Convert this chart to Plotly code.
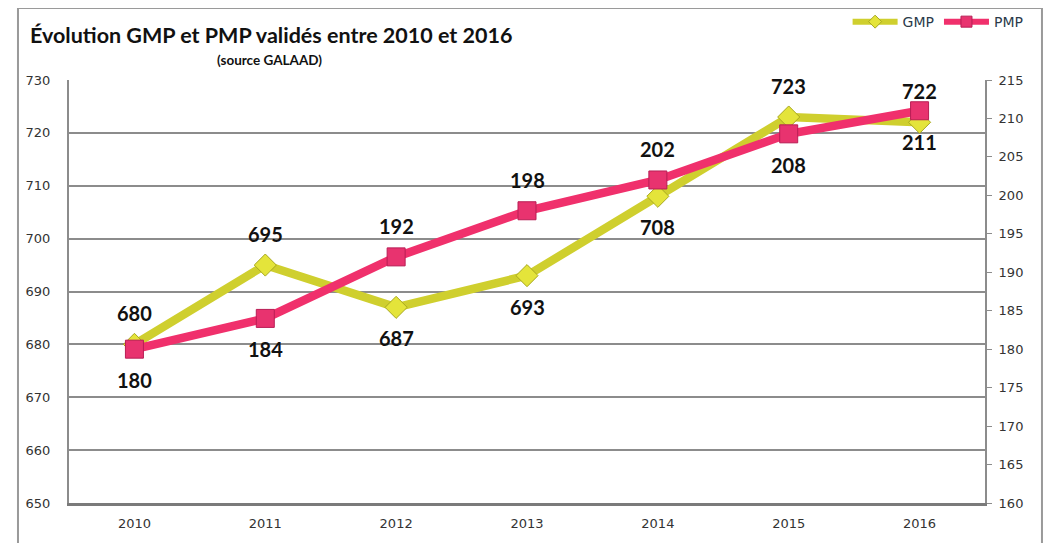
import plotly.graph_objects as go

years = ["2010", "2011", "2012", "2013", "2014", "2015", "2016"]
gmp = [680, 695, 687, 693, 708, 723, 722]
pmp = [180, 184, 192, 198, 202, 208, 211]
gmp_label_pos = ["above", "above", "below", "below", "below", "above", "above"]
pmp_label_pos = ["below", "below", "above", "above", "above", "below", "below"]
left_ticks = [650, 660, 670, 680, 690, 700, 710, 720, 730]
right_ticks = [160, 165, 170, 175, 180, 185, 190, 195, 200, 205, 210, 215]

GMP_LINE = "#cfcf2e"
GMP_FILL = "#e4e43a"
PMP_LINE = "#f0306c"
PMP_FILL = "#e8336f"

idx = list(range(len(years)))

fig = go.Figure()
fig.add_trace(go.Scatter(
    x=idx, y=gmp, name="GMP", mode="lines+markers", showlegend=False,
    line=dict(color=GMP_LINE, width=8.5),
    marker=dict(symbol="diamond", size=17, color=GMP_FILL,
                line=dict(color="#a8a820", width=1)),
    yaxis="y"))
fig.add_trace(go.Scatter(
    x=idx, y=pmp, name="PMP", mode="lines+markers", showlegend=False,
    line=dict(color=PMP_LINE, width=8.5),
    marker=dict(symbol="square", size=18, color=PMP_FILL,
                line=dict(color="#b81e55", width=1)),
    yaxis="y2"))
# legend entries (smaller symbols as in the reference legend)
fig.add_trace(go.Scatter(
    x=[None], y=[None], name="GMP", mode="lines+markers",
    line=dict(color=GMP_LINE, width=6),
    marker=dict(symbol="diamond", size=10, color=GMP_FILL,
                line=dict(color="#a8a820", width=1))))
fig.add_trace(go.Scatter(
    x=[None], y=[None], name="PMP", mode="lines+markers",
    line=dict(color=PMP_LINE, width=6),
    marker=dict(symbol="square", size=11, color=PMP_FILL,
                line=dict(color="#b81e55", width=1))))

label_font = dict(family="Lato", size=20, color="#111111")
annotations = []
for i, v, p in zip(idx, gmp, gmp_label_pos):
    annotations.append(dict(x=i, y=v, xref="x", yref="y", text=f"<b>{v}</b>",
                            showarrow=False, font=label_font,
                            yshift=31 if p == "above" else -31))
for i, v, p in zip(idx, pmp, pmp_label_pos):
    annotations.append(dict(x=i, y=v, xref="x", yref="y2", text=f"<b>{v}</b>",
                            showarrow=False, font=label_font,
                            yshift=31 if p == "above" else -31))

annotations.append(dict(x=-0.0448, y=1.106, xref="paper", yref="paper",
                        xanchor="left", yanchor="middle", showarrow=False,
                        text="<b>Évolution GMP et PMP validés entre 2010 et 2016</b>",
                        font=dict(family="Lato", size=21.5, color="#111111")))
annotations.append(dict(x=0.219, y=1.047, xref="paper", yref="paper",
                        xanchor="center", yanchor="middle", showarrow=False,
                        text="<b>(source GALAAD)</b>",
                        font=dict(family="Lato", size=13.5, color="#111111")))

tick_font = dict(family="DejaVu Sans", size=13, color="#333333")

fig.update_layout(
    width=1053, height=543,
    margin=dict(l=61, r=76, t=72, b=48, autoexpand=False),
    paper_bgcolor="white", plot_bgcolor="white",
    showlegend=True,
    legend=dict(orientation="h", x=0.85, y=1.137, xanchor="left", yanchor="middle",
                font=dict(family="DejaVu Sans", size=14, color="#2b3a4a"),
                bgcolor="rgba(0,0,0,0)", itemwidth=45, tracegroupgap=0),
    xaxis=dict(range=[-0.5, 6.5], tickvals=idx, ticktext=years, showgrid=False,
               tickfont=tick_font, ticks="", showline=True,
               linecolor="#7a7a7a", linewidth=3, mirror=False, zeroline=False,
               ticklabelstandoff=6),
    yaxis=dict(range=[650, 730], tickvals=left_ticks, tickfont=tick_font,
               showgrid=True, gridcolor="#8c8c8c", gridwidth=1.5,
               showline=True, linecolor="#8c8c8c", linewidth=2, ticks="",
               zeroline=False, ticklabelstandoff=14),
    yaxis2=dict(range=[160, 215], tickvals=right_ticks, tickfont=tick_font,
                overlaying="y", side="right", showgrid=False,
                showline=True, linecolor="#8c8c8c", linewidth=2,
                ticks="outside", ticklen=5, tickcolor="#8c8c8c",
                zeroline=False, ticklabelstandoff=4),
    annotations=annotations,
    shapes=[dict(type="rect", xref="paper", yref="paper",
                 x0=-0.0557, x1=1.0622, y0=-0.2, y1=1.170,
                 line=dict(color="#9a9a9a", width=2), fillcolor="rgba(0,0,0,0)",
                 layer="below")],
)

fig.write_html("out.html")
